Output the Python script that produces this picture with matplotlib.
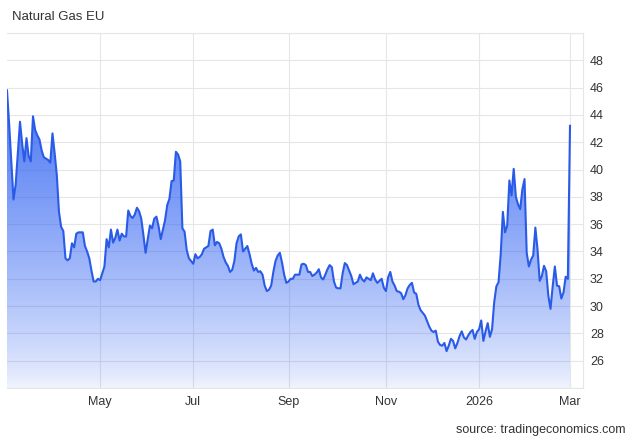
import matplotlib
matplotlib.use("Agg")
import matplotlib.pyplot as plt
import numpy as np
import pandas as pd

plt.rcParams['font.family'] = ['Liberation Sans', 'DejaVu Sans']

# ---- data (EUR/MWh, trading days Mar 3 2025 .. Mar 2 2026) ----
mar25 = [45.8, 43.3, 40.5, 37.8, 38.9, 41.2, 43.5, 41.9, 40.6, 42.3, 41.0, 40.6, 43.9,
         42.9, 42.5, 42.2, 41.4, 40.9, 40.8, 40.7, 40.5]
apr25 = [42.65, 41.2, 39.6, 36.9, 35.8, 35.5, 33.5, 33.35, 33.5, 34.6, 34.3, 35.3, 35.4,
         35.4, 35.4, 34.4, 34.0, 33.5, 32.6, 31.8, 31.8, 32.0]
may25 = [31.9, 32.4, 32.9, 34.9, 34.3, 35.6, 34.65, 35.0, 35.6, 34.8, 35.3, 35.1, 35.1,
         37.0, 36.6, 36.45, 36.7, 37.2, 36.95, 36.4, 35.2, 33.9]
jun25 = [34.9, 35.9, 35.7, 36.4, 36.55, 35.85, 34.9, 35.6, 36.3, 37.4, 37.85, 39.15, 39.2,
         41.3, 41.1, 40.6, 35.7, 35.45, 34.1, 33.5, 33.3]
jul25 = [33.1, 33.8, 33.5, 33.6, 33.8, 34.2, 34.3, 34.4, 35.5, 35.6, 34.45, 34.7, 34.6,
         34.2, 33.6, 33.2, 32.95, 32.5, 32.65, 33.3, 34.6, 35.1, 35.25]
aug25 = [34.0, 34.2, 34.4, 33.8, 33.1, 32.6, 32.8, 32.5, 32.55, 32.3, 31.5, 31.1, 31.2,
         31.5, 32.5, 33.3, 33.7, 33.9, 33.2, 32.3, 31.7]
sep25 = [31.8, 32.0, 32.0, 32.3, 32.3, 32.3, 33.05, 33.1, 33.0, 32.5, 32.5, 32.2, 32.3,
         32.45, 32.7, 32.1, 31.95, 32.3, 32.7, 33.0, 32.85, 31.8]
oct25 = [31.35, 31.3, 31.3, 32.4, 33.15, 33.0, 32.6, 32.2, 31.6, 31.7, 31.8, 32.3, 31.95,
         31.8, 32.1, 32.0, 31.9, 32.4, 31.95, 31.7, 31.85, 32.0, 31.35]
nov25 = [31.1, 32.1, 32.5, 31.8, 31.5, 31.1, 31.05, 30.95, 30.5, 30.8, 31.3, 31.55, 31.7,
         31.0, 30.9, 30.1, 29.7, 29.5, 29.3, 28.9]
dec25 = [28.5, 28.2, 28.1, 28.2, 27.4, 27.15, 27.1, 27.3, 26.7, 27.1, 27.6, 27.45, 26.9,
         27.3, 27.8, 28.15, 27.7, 27.55, 27.85, 28.1, 28.25, 27.6, 28.1]
jan26 = [28.3, 28.95, 27.45, 28.15, 28.75, 27.75, 28.3, 30.3, 31.45, 31.75, 33.8, 36.9,
         35.4, 35.9, 39.2, 38.1, 40.05, 38.0, 37.45, 37.1, 38.55, 39.3]
feb26 = [33.9, 32.9, 33.4, 33.7, 35.75, 34.15, 31.85, 32.2, 32.95, 32.55, 30.75, 29.8,
         31.45, 32.9, 31.5, 31.45, 30.55, 31.0, 32.15, 32.0]
mar26 = [43.2]

start_date = '2025-03-03'
end_date = '2026-03-02'
tick_dates = ['2025-05-01', '2025-07-01', '2025-09-01', '2025-11-01', '2026-01-01', '2026-03-01']
tick_labels = ['May', 'Jul', 'Sep', 'Nov', '2026', 'Mar']
y_ticks = list(range(24, 51, 2))
title = 'Natural Gas EU'
source = 'source: tradingeconomics.com'

values = np.array(mar25 + apr25 + may25 + jun25 + jul25 + aug25 + sep25 + oct25 +
                  nov25 + dec25 + jan26 + feb26 + mar26)
dates = pd.bdate_range(start_date, end_date)
assert len(dates) == len(values)
# the chart uses a trading-day axis (no weekend gaps)
x = np.arange(len(values))
tick_pos = [int(dates.searchsorted(pd.Timestamp(d))) for d in tick_dates]

# ---- figure ----
W, H = 635, 440
fig = plt.figure(figsize=(W / 100, H / 100), dpi=100)
fig.patch.set_facecolor('white')
ax = fig.add_axes([7 / W, 1 - 388 / H, (583 - 7) / W, (388 - 33) / H])

ymin, ymax = 24, 50
xmin, xmax = 0, len(values) - 1 + 6
ax.set_xlim(xmin, xmax)
ax.set_ylim(ymin, ymax)

line_color = '#2a5be8'
base = np.array([0.18, 0.38, 0.95])
ny = 300
vv = np.linspace(ymin, ymax, ny)
alpha = 0.07 + 0.8 * np.clip((vv - ymin) / 22.0, 0, 1) ** 0.8
rgba = np.zeros((ny, 1, 4))
rgba[:, 0, :3] = base
rgba[:, 0, 3] = np.clip(alpha, 0, 1)

poly = ax.fill_between(x, values, ymin, facecolor='none', edgecolor='none')
im = ax.imshow(rgba, extent=[xmin, xmax, ymin, ymax], origin='lower', aspect='auto',
               zorder=1, interpolation='bilinear')
im.set_clip_path(poly.get_paths()[0], transform=ax.transData)

ax.plot(x, values, color=line_color, lw=1.5, zorder=3, solid_joinstyle='round')

# grid & ticks
ax.set_yticks(y_ticks)
ax.set_yticklabels(['' if (t == ymin or t == ymax) else str(t) for t in y_ticks])
ax.yaxis.tick_right()
ax.set_xticks(tick_pos)
ax.set_xticklabels(tick_labels)
ax.grid(True, color='#e6e6e6', lw=0.8, zorder=0)
ax.set_axisbelow(True)
ax.tick_params(axis='y', length=0, pad=5, labelsize=9, labelcolor='#333333')
ax.tick_params(axis='x', length=0, pad=6, labelsize=9, labelcolor='#333333')
for s in ['top', 'bottom', 'right']:
    ax.spines[s].set_color('#e6e6e6')
    ax.spines[s].set_linewidth(0.8)
ax.spines['left'].set_visible(False)

fig.text(12 / W, 1 - 17 / H, title, fontsize=9.5, color='#333333', va='center', ha='left')
fig.text(625 / W, 1 - 430 / H, source, fontsize=9, color='#333333', va='center', ha='right')

fig.savefig('out.png', dpi=100)
